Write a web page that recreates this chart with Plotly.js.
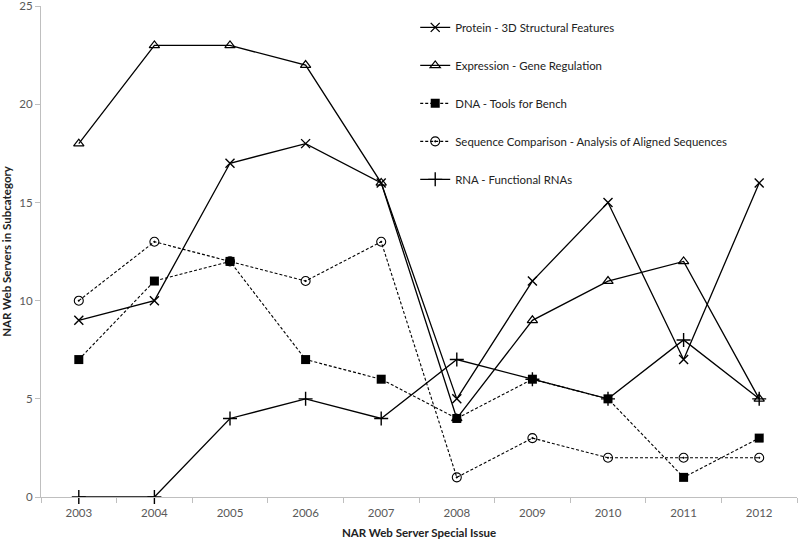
<!DOCTYPE html>
<html>
<head>
<meta charset="utf-8">
<script src="https://cdn.plot.ly/plotly-3.0.1.min.js"></script>
<style>html,body{margin:0;padding:0;background:#fff}#chart{width:800px;height:541px}</style>
</head>
<body>
<div id="chart"></div>
<script>
const years = ["2003","2004","2005","2006","2007","2008","2009","2010","2011","2012"];
const protein = [9, 10, 17, 18, 16, 5, 11, 15, 7, 16];
const expression = [18, 23, 23, 22, 16, 4, 9, 11, 12, 5];
const dna = [7, 11, 12, 7, 6, 4, 6, 5, 1, 3];
const sequenceComp = [10, 13, 12, 11, 13, 1, 3, 2, 2, 2];
const rna = [0, 0, 4, 5, 4, 7, 6, 5, 8, 5];
const yTicks = [0, 5, 10, 15, 20, 25];
const names = [
  "Protein - 3D Structural Features",
  "Expression - Gene Regulation",
  "DNA - Tools for Bench",
  "Sequence Comparison - Analysis of Aligned Sequences",
  "RNA - Functional RNAs"
];

const lineSolid = {color: "#000", width: 1.3};
const lineDash = {color: "#000", width: 1.1, dash: "3px,2px"};
function tr(y, name, line, marker, g) {
  return {x: years, y: y, name: name, type: "scatter", mode: "lines+markers",
    line: line, marker: marker, legendgroup: g, cliponaxis: false};
}
const traces = [
  tr(protein, names[0], lineSolid, {symbol: "x-thin-open", size: 9, color: "#000", line: {color: "#000", width: 1.4}}, "a"),
  tr(expression, names[1], lineSolid, {symbol: "triangle-up-open", size: 9, color: "#000", line: {color: "#000", width: 1.2}}, "b"),
  tr(dna, names[2], lineDash, {symbol: "square", size: 9, color: "#000", line: {color: "#000", width: 0}}, "c"),
  tr(sequenceComp, names[3], lineDash, {symbol: "circle-open-dot", size: 9, color: "#000", line: {color: "#000", width: 1.1}}, "d"),
  tr(rna, names[4], lineSolid, {symbol: "cross-thin-open", size: 10, color: "#000", line: {color: "#000", width: 1.4}}, "e")
];

const layout = {
  width: 800, height: 541,
  margin: {l: 41, r: 3, t: 6, b: 44},
  paper_bgcolor: "#fff", plot_bgcolor: "#fff",
  font: {family: "Lato, 'Open Sans', sans-serif", size: 12, color: "#595959"},
  showlegend: true,
  legend: {x: 0.495, y: 0.986, xanchor: "left", yanchor: "top", bgcolor: "rgba(0,0,0,0)",
    font: {size: 11.4, color: "#222"}, tracegroupgap: 19, itemwidth: 30},
  xaxis: {type: "category", range: [-0.5, 9.5], showgrid: false, zeroline: false,
    showline: true, linecolor: "#BFBFBF", linewidth: 1,
    ticks: "outside", tickson: "boundaries", ticklen: 5, tickcolor: "#BFBFBF",
    ticklabelstandoff: 5,
    tickfont: {size: 11.5, color: "#595959"},
    title: {text: "NAR Web Server Special Issue", font: {size: 11.5, color: "#222", weight: "bold"}, standoff: 11}},
  yaxis: {range: [0, 25.01], tickmode: "array", tickvals: yTicks, showgrid: false, zeroline: false,
    showline: true, linecolor: "#BFBFBF", linewidth: 1, ticklabeloverflow: "allow",
    ticks: "outside", ticklen: 5, tickcolor: "#BFBFBF",
    tickfont: {size: 11.5, color: "#595959"},
    title: {text: "NAR Web Servers in Subcategory", font: {size: 11.5, color: "#222", weight: "bold"}, standoff: 8}}
};
Plotly.newPlot("chart", traces, layout, {displayModeBar: false, staticPlot: true});
</script>
</body>
</html>
